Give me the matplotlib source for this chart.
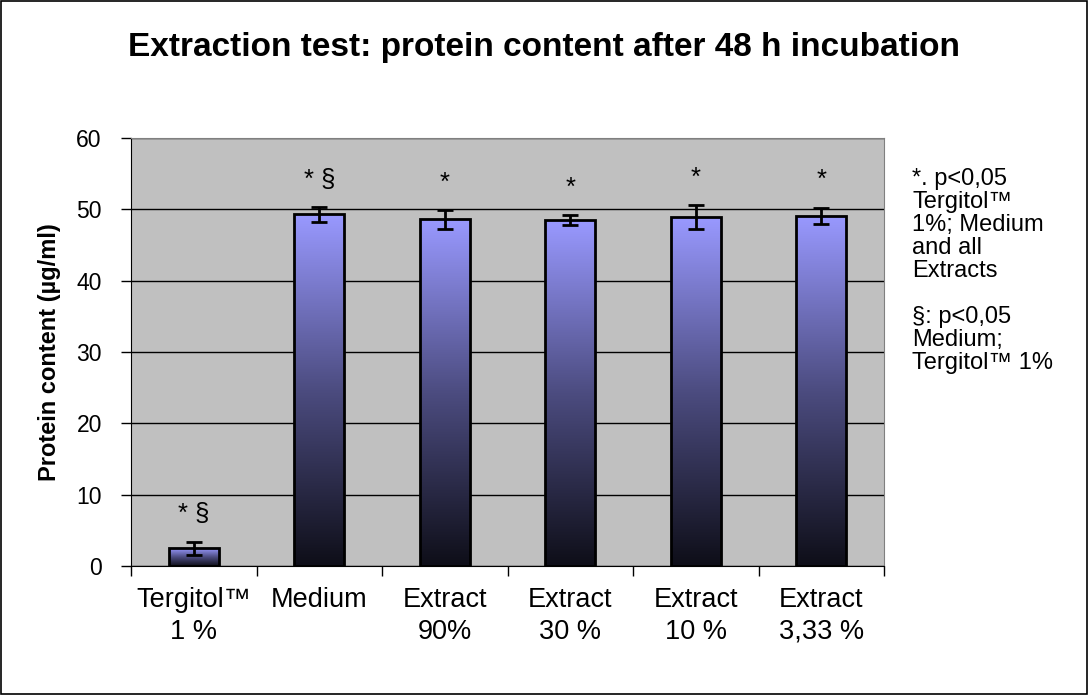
import matplotlib
matplotlib.use("Agg")
import matplotlib.pyplot as plt
import numpy as np
from matplotlib.colors import LinearSegmentedColormap

plt.rcParams['font.family'] = ['Liberation Sans', 'DejaVu Sans']

# data
categories = ["Tergitol™\n1 %", "Medium", "Extract\n90%", "Extract\n30 %", "Extract\n10 %", "Extract\n3,33 %"]
values = [2.5, 49.3, 48.6, 48.5, 48.9, 49.1]
errors = [0.9, 1.05, 1.3, 0.7, 1.65, 1.15]
marks = ["* §", "* §", "*", "*", "*", "*"]
note = "*. p<0,05\nTergitol™\n1%; Medium\nand all\nExtracts\n\n§: p<0,05\nMedium;\nTergitol™ 1%"

fig = plt.figure(figsize=(10.89, 6.95), dpi=100)
ax = fig.add_axes([0.1203, 0.1856, 0.6915, 0.6158])
ax.set_facecolor("#c0c0c0")

x = np.arange(len(categories))
bars = ax.bar(x, values, width=0.4, facecolor="none", edgecolor="black", linewidth=2, zorder=3)

# gradient fill: light periwinkle at top, near black at bottom
cmap = LinearSegmentedColormap.from_list("grad", ["#0e0e18", "#4c4c80", "#9999ff"])
grad = np.linspace(0, 1, 256).reshape(-1, 1)
for b in bars:
    x0, w, h = b.get_x(), b.get_width(), b.get_height()
    im = ax.imshow(grad, cmap=cmap, origin="lower", aspect="auto",
                   extent=[x0, x0 + w, 0, h], zorder=2)
    im.set_clip_path(b)

ax.errorbar(x, values, yerr=errors, fmt="none", ecolor="black", elinewidth=2,
            capsize=6, capthick=2, zorder=4)

for xi, v, e, m in zip(x, values, errors, marks):
    ax.annotate(m, (xi, v + e), xytext=(0, 11), textcoords="offset points",
                ha="center", va="bottom", fontsize=18.5)

ax.set_xlim(-0.5, len(categories) - 0.5)
ax.set_ylim(0, 60)
ax.set_yticks(np.arange(0, 61, 10))
ax.yaxis.grid(True, color="black", linewidth=1)
ax.set_axisbelow(True)
ax.set_xticks(x)
ax.set_xticklabels(categories, fontsize=19.5, linespacing=1.3)
ax.set_xticks(np.arange(-0.5, len(categories), 1), minor=True)
ax.tick_params(axis="x", which="major", length=0, pad=15)
ax.tick_params(axis="x", which="minor", length=7, width=1, direction="out")
ax.tick_params(axis="y", length=7, width=1, direction="out", labelsize=16.5, pad=14)
for s in ax.spines.values():
    s.set_color("#808080")
ax.spines["left"].set_color("black")
ax.spines["bottom"].set_color("black")

ax.set_ylabel("Protein content (µg/ml)", fontsize=17, fontweight="bold", labelpad=11)
fig.text(0.5, 0.932, "Extraction test: protein content after 48 h incubation",
         ha="center", va="center", fontsize=24, fontweight="bold")
fig.text(0.8375, 0.758, note, ha="left", va="top", fontsize=17, linespacing=1.06)

fig.patches.append(plt.Rectangle((0.001, 0.001), 0.997, 0.997, transform=fig.transFigure,
                                 fill=False, edgecolor="black", linewidth=1.2))

fig.savefig("out.png", dpi=100)
